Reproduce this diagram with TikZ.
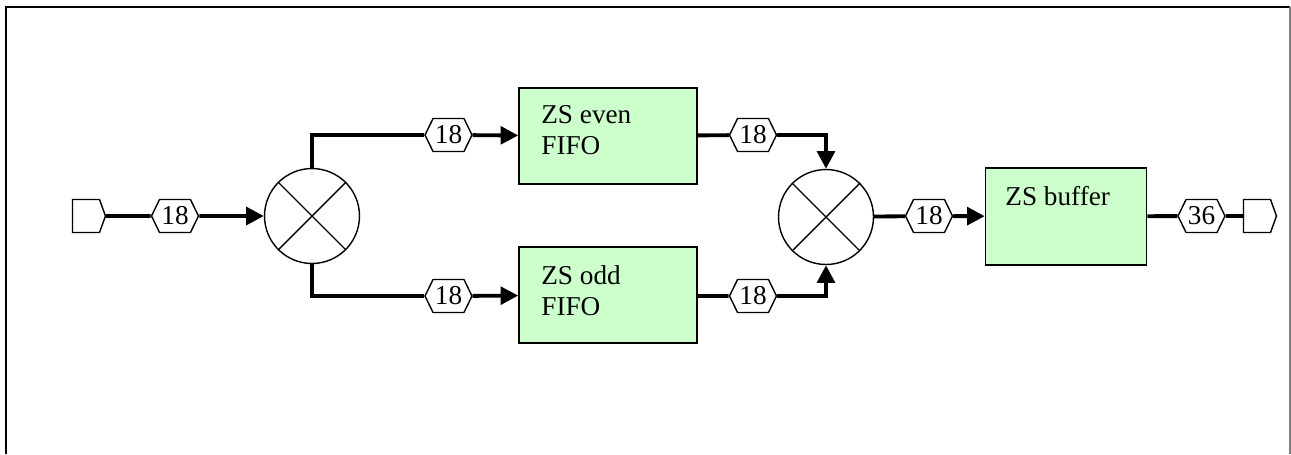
\documentclass[tikz,border=0pt]{standalone}
\usepackage{fontspec}
\setmainfont{Liberation Serif}
\usepackage{tikz}
\usetikzlibrary{shapes.symbols,arrows.meta}

\definecolor{fifogreen}{RGB}{204,255,204}

\tikzset{
  wire/.style={line width=2.2pt},
  flow/.style={wire, -{Triangle[length=10pt,width=10pt]}},
  buswidth/.style={draw, line width=0.8pt, fill=white, shape=signal, signal to=east and west,
    signal pointer angle=128, minimum width=0.94cm, minimum height=0.66cm, inner sep=0pt},
  port/.style={draw, line width=0.8pt, fill=white, shape=signal, signal to=east, signal from=nowhere,
    signal pointer angle=140, minimum width=0.66cm, minimum height=0.66cm, inner sep=0pt},
  mux/.style={draw, circle, line width=0.8pt, minimum size=1.9cm, inner sep=0pt},
  block/.style={draw, line width=0.9pt, fill=fifogreen, minimum width=3.56cm, minimum height=1.93cm, inner sep=0pt},
  blocktext/.style={anchor=north west, inner sep=0pt, align=left}
}

\begin{document}
\begin{tikzpicture}[x=0.02cm, y=-0.02cm, font=\fontsize{15.5}{17.5}\selectfont]
  \useasboundingbox (0,0) rectangle (1291,454);
  % frame
  \draw[line width=1.1pt] (6,454) -- (6,7) -- (1290,7);
  \draw[line width=1.1pt, gray] (1290,7) -- (1290,454);

  % ports and splitter
  \node[port] (pin) at (86,216) {};
  \node[buswidth] (w1) at (175,216) {18};
  \node[mux] (split) at (312,216) {};
  \draw[line width=0.8pt] (split.north west) -- (split.south east);
  \draw[line width=0.8pt] (split.north east) -- (split.south west);

  % fifos
  \node[buswidth] (w2) at (448.5,135) {18};
  \node[block] (even) at (608,136) {};
  \node[blocktext] (event) at (541,105) {ZS even\\FIFO};
  \node[buswidth] (w3) at (753,135) {18};

  \node[buswidth] (w4) at (448.5,296) {18};
  \node[block] (odd) at (608,295) {};
  \node[blocktext] (oddt) at (541,265) {ZS odd\\FIFO};
  \node[buswidth] (w5) at (753,296) {18};

  % merge and buffer
  \node[mux] (merge) at (826,217) {};
  \draw[line width=0.8pt] (merge.north west) -- (merge.south east);
  \draw[line width=0.8pt] (merge.north east) -- (merge.south west);
  \node[buswidth] (w6) at (929,216) {18};
  \node[block, minimum width=3.22cm] (buf) at (1066,216.5) {};
  \node[blocktext] (buft) at (1005,186) {ZS buffer};
  \node[buswidth] (w7) at (1201.5,216) {36};
  \node[port] (pout) at (1257,216) {};

  % connectors
  \draw[wire] (pin) -- (w1);
  \draw[flow] (w1) -- (split);
  \draw[wire] (split.north) |- (w2);
  \draw[flow] (w2) -- (even);
  \draw[wire] (split.south) |- (w4);
  \draw[flow] (w4) -- (odd);
  \draw[wire] (even) -- (w3);
  \draw[flow] (w3) -| (merge.north);
  \draw[wire] (odd.east |- w5) -- (w5);
  \draw[flow] (w5) -| (merge.south);
  \draw[wire] (merge) -- (w6);
  \draw[flow] (w6) -- (buf);
  \draw[wire] (buf) -- (w7);
  \draw[wire] (w7) -- (pout);
\end{tikzpicture}
\end{document}
